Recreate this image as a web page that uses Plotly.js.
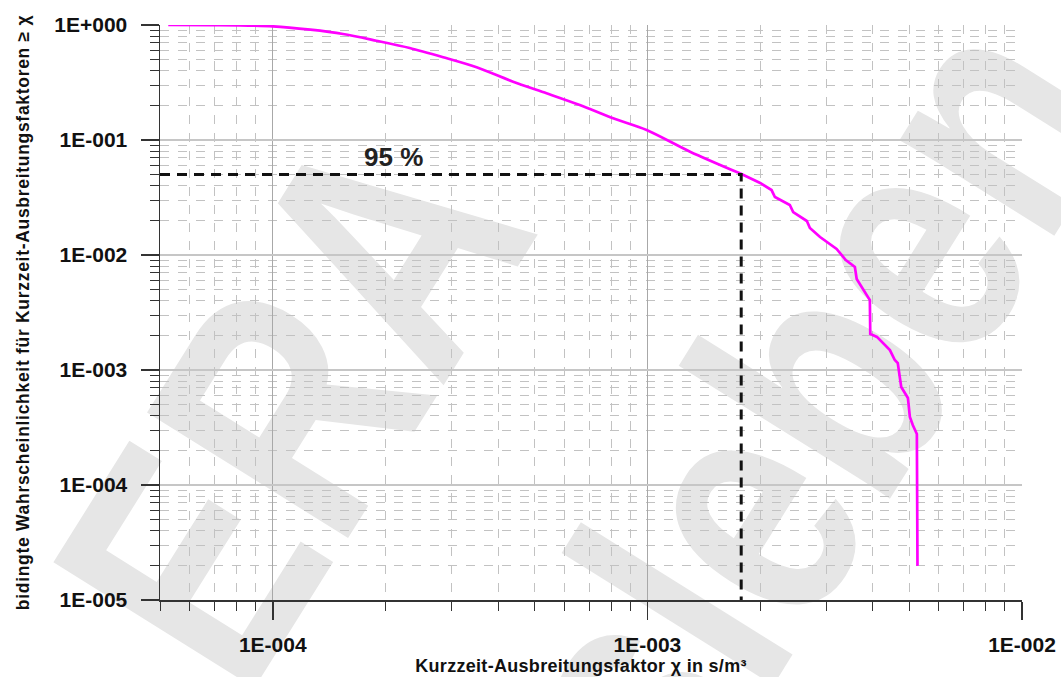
<!DOCTYPE html>
<html>
<head>
<meta charset="utf-8">
<script src="https://cdn.plot.ly/plotly-3.0.1.min.js"></script>
<style>
html, body { margin: 0; padding: 0; background: #ffffff; }
#wrap { position: relative; width: 1061px; height: 677px; overflow: hidden; background: #ffffff; }
#wm { position: absolute; left: 0; top: 0; }
#chart { position: absolute; left: 0; top: 0; width: 1061px; height: 677px; }
</style>
</head>
<body>
<div id="wrap">
  <svg id="wm" width="1061" height="677" xmlns="http://www.w3.org/2000/svg"></svg>
  <div id="chart"></div>
</div>
<script>
// ---- data ----
const chi = [5.26e-5, 6.9e-5, 1.0e-4, 1.26e-4, 1.54e-4, 1.89e-4, 2.32e-4, 2.85e-4, 3.5e-4, 4.38e-4,
             5.38e-4, 6.6e-4, 8.1e-4, 9.95e-4, 1.3e-3, 1.765e-3, 2.0e-3, 2.145e-3, 2.19e-3, 2.40e-3,
             2.45e-3, 2.665e-3, 2.715e-3, 2.89e-3, 3.2e-3, 3.385e-3, 3.58e-3, 3.62e-3, 3.85e-3, 3.925e-3,
             3.935e-3, 4.1e-3, 4.44e-3, 4.575e-3, 4.66e-3, 4.76e-3, 4.96e-3, 5.02e-3, 5.11e-3, 5.24e-3, 5.26e-3];
const prob = [1.0, 0.997, 0.974, 0.91, 0.835, 0.73, 0.631, 0.524, 0.429, 0.321,
              0.255, 0.2015, 0.1544, 0.1222, 0.0791, 0.0513, 0.0423, 0.0367, 0.0319, 0.0272,
              0.02365, 0.01975, 0.01717, 0.01434, 0.01128, 0.00905, 0.00787, 0.00619, 0.00458, 0.00406,
              0.00206, 0.00194, 0.00149, 0.00122, 0.00115, 0.000712, 0.000571, 0.00039, 0.000332, 0.000278, 1.98e-5];
// the first points form a smooth curve, the rest is a stepped empirical tail
const smoothCount = 16;

const chi95 = 1.78e-3;
const p95 = 0.05;
const label95 = '95 %';

const xMin = 5e-5, xMax = 1e-2;
const yMin = 1e-5, yMax = 1;

const xTickVals = [1e-4, 1e-3, 1e-2];
const xTickText = ['1E-004', '1E-003', '1E-002'];
const yTickVals = [1, 1e-1, 1e-2, 1e-3, 1e-4, 1e-5];
const yTickText = ['1E+000', '1E-001', '1E-002', '1E-003', '1E-004', '1E-005'];

const xTitle = 'Kurzzeit-Ausbreitungsfaktor χ in s/m³';
const yTitle = 'bidingte Wahrscheinlichkeit für Kurzzeit-Ausbreitungsfaktoren ≥ χ';

const watermarkLines = ['ERA', 'Morsleben'];

// ---- watermark (drawn behind the transparent chart) ----
const wmPlace = [{ox: 245, oy: 703}, {ox: 428, oy: 1238}];
const svg = document.getElementById('wm');
watermarkLines.forEach(function (txt, i) {
  const t = document.createElementNS('http://www.w3.org/2000/svg', 'text');
  t.setAttribute('x', 0);
  t.setAttribute('y', 0);
  t.setAttribute('transform', 'translate(' + wmPlace[i].ox + ',' + wmPlace[i].oy + ') rotate(-58) scale(1,1.3)');
  t.setAttribute('font-family', '"Liberation Sans", Arial, sans-serif');
  t.setAttribute('font-weight', 'bold');
  t.setAttribute('font-size', '265');
  t.setAttribute('fill', '#e6e6e6');
  t.textContent = txt;
  svg.appendChild(t);
});

// ---- minor tick positions (2..9 per decade) ----
function minorVals(lo, hi) {
  const out = [];
  for (let d = -6; d <= 1; d++) {
    for (let k = 2; k <= 9; k++) {
      const v = k * Math.pow(10, d);
      if (v >= lo * 0.999 && v <= hi * 1.001) out.push(v);
    }
  }
  return out;
}
const xMinor = minorVals(xMin, xMax);
const yMinor = minorVals(yMin, yMax);

const FONT = '"Liberation Sans", Arial, Helvetica, sans-serif';

const traces = [
  {
    x: chi.slice(0, smoothCount), y: prob.slice(0, smoothCount), type: 'scatter', mode: 'lines',
    line: {color: '#ff00ff', width: 2.7, shape: 'spline', smoothing: 0.8},
    hoverinfo: 'skip'
  },
  {
    x: chi.slice(smoothCount - 1), y: prob.slice(smoothCount - 1), type: 'scatter', mode: 'lines',
    line: {color: '#ff00ff', width: 2.7},
    hoverinfo: 'skip'
  },
  {
    x: [xMin, chi95, chi95], y: [p95, p95, yMin], type: 'scatter', mode: 'lines',
    line: {color: '#111111', width: 3, dash: '10px,7px'},
    hoverinfo: 'skip'
  }
];

const minorCommon = {
  tickmode: 'array', ticks: 'outside', ticklen: 9, tickwidth: 1, tickcolor: '#333333',
  showgrid: true, gridcolor: '#c2c2c2', gridwidth: 1, griddash: '9px,9px'
};

const layout = {
  width: 1061, height: 677,
  margin: {l: 160, r: 39, t: 25, b: 77, pad: 0},
  paper_bgcolor: 'rgba(0,0,0,0)',
  plot_bgcolor: 'rgba(0,0,0,0)',
  showlegend: false,
  font: {family: FONT, color: '#111111'},
  xaxis: {
    type: 'log', range: [Math.log10(xMin), Math.log10(xMax)],
    tickmode: 'array', tickvals: xTickVals, ticktext: xTickText,
    ticks: 'outside', ticklen: 18, tickwidth: 1.5, tickcolor: '#333333',
    tickfont: {size: 21, weight: 'bold', family: FONT, color: '#111111'},
    ticklabelstandoff: 7,
    showline: true, linecolor: '#333333', linewidth: 1.5,
    showgrid: true, gridcolor: '#a8a8a8', gridwidth: 1,
    zeroline: false, automargin: false,
    minor: Object.assign({tickvals: xMinor}, minorCommon),
    title: {text: xTitle, font: {size: 18, weight: 'bold', family: FONT, color: '#111111'}, standoff: 3}
  },
  yaxis: {
    type: 'log', range: [Math.log10(yMin), Math.log10(yMax)],
    tickmode: 'array', tickvals: yTickVals, ticktext: yTickText,
    ticks: 'outside', ticklen: 18, tickwidth: 1.5, tickcolor: '#333333',
    tickfont: {size: 21, weight: 'bold', family: FONT, color: '#111111'},
    ticklabelstandoff: 9,
    showline: true, linecolor: '#333333', linewidth: 1.5,
    showgrid: true, gridcolor: '#c6c6c6', gridwidth: 2,
    zeroline: false, automargin: false,
    minor: Object.assign({tickvals: yMinor}, minorCommon),
    title: {text: yTitle, font: {size: 17.5, weight: 'bold', family: FONT, color: '#111111'}, standoff: 20}
  },
  annotations: [
    {
      x: Math.log10(2.1e-4), y: Math.log10(0.0711), xref: 'x', yref: 'y',
      text: label95, showarrow: false, xanchor: 'center', yanchor: 'middle',
      font: {size: 26, weight: 'bold', family: FONT, color: '#222222'}
    }
  ]
};

Plotly.newPlot('chart', traces, layout, {staticPlot: true, displayModeBar: false}).then(function (gd) {
  // the reference titles are set with a slightly wider letter spacing,
  // and the x title sits a little left of the plot centre
  const xt = gd.querySelector('.g-xtitle text');
  if (xt) {
    xt.style.letterSpacing = '0.3px';
    xt.setAttribute('x', parseFloat(xt.getAttribute('x')) - 10);
  }
  const yt = gd.querySelector('.g-ytitle text');
  if (yt) yt.style.letterSpacing = '0.7px';
});
</script>
</body>
</html>
